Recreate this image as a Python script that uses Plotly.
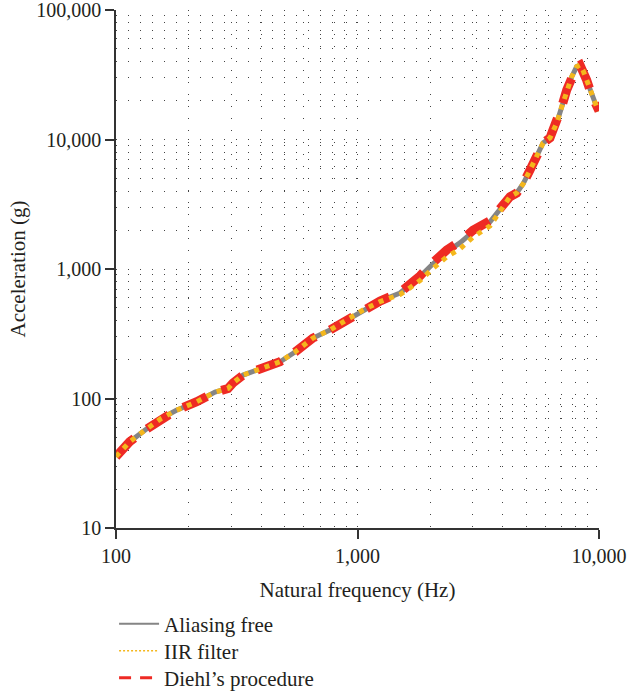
import plotly.graph_objects as go

freq = [100, 114, 132, 154, 177, 216, 257, 291, 305, 336, 383, 434, 478, 551, 654, 769, 902,
        1054, 1240, 1500, 1649, 1815, 2029, 2340, 2656, 3008, 3538, 3890, 4280, 4565, 4846,
        5179, 5589, 5867, 6267, 6683, 7011, 7350, 7712, 8084, 8340, 8577, 8885, 9328, 9776, 10000]

aliasing_free = [35.6, 46.4, 57.1, 70.1, 80.8, 94.4, 112, 119.5, 131.8, 151.8, 165.9, 178.2, 192.3,
                 228.6, 293.1, 338.1, 403.6, 482.3, 566, 653, 752, 873, 1074, 1360, 1589, 1941,
                 2318, 2856, 3614, 3865, 4533, 5808, 7866, 9397, 10280, 13410, 17910, 24110,
                 30550, 36500, 37600, 34400, 28800, 22070, 17900, 16600]

iir_filter = [35.6, 46.4, 57.1, 70.1, 80.8, 94.4, 112, 119.5, 131.8, 151.8, 165.9, 178.2, 192.3,
              228.6, 293.1, 338.1, 403.6, 482.3, 560, 635, 715, 815, 990, 1240, 1430, 1760,
              2150, 2780, 3614, 3865, 4533, 5808, 7866, 9397, 10280, 13410, 17910, 24110,
              30550, 36500, 37600, 34400, 28800, 22070, 17900, 16600]

diehl = [35.6, 46.4, 57.1, 70.1, 80.8, 94.4, 112, 119.5, 131.8, 151.8, 165.9, 178.2, 192.3,
         228.6, 293.1, 338.1, 403.6, 482.3, 566, 660, 760, 885, 1100, 1400, 1630, 1990,
         2360, 2880, 3614, 3865, 4533, 5808, 7866, 9397, 10280, 13410, 17910, 24110,
         30550, 36500, 37600, 34400, 28800, 22070, 17900, 16600]

x_tickvals = [100, 1000, 10000]
x_ticktext = ["100", "1,000", "10,000"]
y_tickvals = [10, 100, 1000, 10000, 100000]
y_ticktext = ["10", "100", "1,000", "10,000", "100,000"]

GRAY = "#858585"
GOLD = "#f4b71c"
RED = "#ee2a24"
TXT = "#231f20"
FONT = "Liberation Serif"

fig = go.Figure()
fig.add_trace(go.Scatter(x=freq, y=aliasing_free, mode="lines", showlegend=False,
                         line=dict(color=GRAY, width=5)))
fig.add_trace(go.Scatter(x=freq, y=diehl, mode="lines", showlegend=False,
                         line=dict(color=RED, width=9, dash="26px,16px")))
fig.add_trace(go.Scatter(x=freq, y=iir_filter, mode="lines", showlegend=False,
                         line=dict(color=GOLD, width=5, dash="5px,6px")))

# legend entries (thin samples as in the reference), one legend per row
fig.add_trace(go.Scatter(x=[None], y=[None], mode="lines", name="Aliasing free",
                         legend="legend", line=dict(color=GRAY, width=2)))
fig.add_trace(go.Scatter(x=[None], y=[None], mode="lines", name="IIR filter",
                         legend="legend2", line=dict(color=GOLD, width=1.5, dash="2px,2px")))
fig.add_trace(go.Scatter(x=[None], y=[None], mode="lines", name="Diehl’s procedure",
                         legend="legend3", line=dict(color=RED, width=3, dash="12px,9px")))

common = dict(ticks="outside", ticklen=9, tickwidth=1.5, tickcolor="#333",
              showline=True, linecolor="#333", linewidth=1.5, zeroline=False,
              showgrid=True, gridcolor="#444", gridwidth=1, griddash="1px,11px",
              minor=dict(showgrid=True, gridcolor="#444", gridwidth=1, griddash="1px,11px",
                         dtick="D1"),
              ticklabeloverflow="allow",
              tickfont=dict(size=20, family=FONT, color=TXT))

fig.update_xaxes(type="log", range=[2, 4], tickvals=x_tickvals, ticktext=x_ticktext,
                 title=dict(text="Natural frequency (Hz)", font=dict(size=21, family=FONT, color=TXT),
                            standoff=17), **common)
fig.update_yaxes(type="log", range=[1, 5], tickvals=y_tickvals, ticktext=y_ticktext,
                 title=dict(text="Acceleration (g)", font=dict(size=21, family=FONT, color=TXT),
                            standoff=5), **common)

leg = dict(x=-0.004, xanchor="left", yanchor="middle", itemwidth=40,
           font=dict(size=21, family=FONT, color=TXT), bgcolor="rgba(0,0,0,0)")

fig.update_layout(
    width=627, height=695,
    margin=dict(l=116, r=28, t=10, b=167, autoexpand=False),
    plot_bgcolor="white", paper_bgcolor="white",
    font=dict(family=FONT, size=20, color=TXT),
    legend=dict(y=-0.1853, **leg),
    legend2=dict(y=-0.2375, **leg),
    legend3=dict(y=-0.2896, **leg),
)

fig.write_html("out.html")
